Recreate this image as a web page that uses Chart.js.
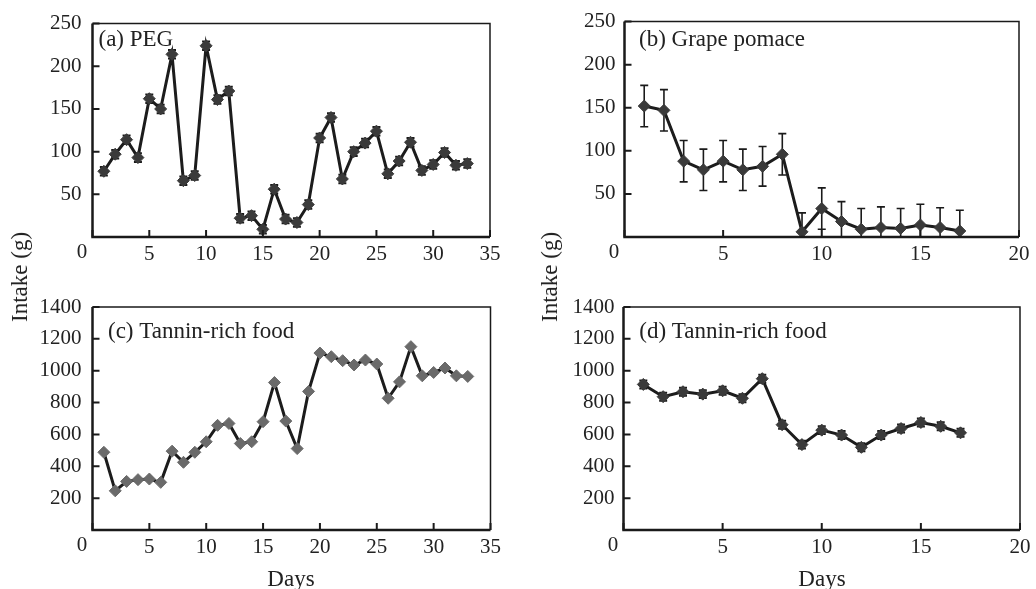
<!DOCTYPE html>
<html>
<head>
<meta charset="utf-8">
<script src="https://cdn.jsdelivr.net/npm/chart.js@4.4.1/dist/chart.umd.min.js"></script>
<style>
  html, body { margin: 0; padding: 0; background: #fff; }
  #wrap { position: relative; width: 1036px; height: 589px; overflow: hidden; font-family: 'Liberation Serif', serif; color: #222; }
  .box { position: absolute; }
  .ytitle { position: absolute; font-size: 23px; transform: translate(-50%, -50%) rotate(-90deg); white-space: nowrap; }
  .xtitle { position: absolute; font-size: 23px; transform: translate(-50%, -50%); white-space: nowrap; }
</style>
</head>
<body>
<div id="wrap">
  <div class="box" style="left:0;top:0;width:518px;height:270px"><canvas id="chartA"></canvas></div>
  <div class="box" style="left:518px;top:0;width:518px;height:270px"><canvas id="chartB"></canvas></div>
  <div class="box" style="left:0;top:270px;width:518px;height:300px"><canvas id="chartC"></canvas></div>
  <div class="box" style="left:518px;top:270px;width:518px;height:300px"><canvas id="chartD"></canvas></div>
  <div class="ytitle" style="left:20px;top:277px">Intake (g)</div>
  <div class="ytitle" style="left:550px;top:277px">Intake (g)</div>
  <div class="xtitle" style="left:291px;top:579px">Days</div>
  <div class="xtitle" style="left:822px;top:579px">Days</div>
</div>
<script>
// Data
const daysLong = [1, 2, 3, 4, 5, 6, 7, 8, 9, 10, 11, 12, 13, 14, 15, 16, 17, 18, 19, 20, 21, 22, 23, 24, 25, 26, 27, 28, 29, 30, 31, 32, 33];
const daysShort = [1, 2, 3, 4, 5, 6, 7, 8, 9, 10, 11, 12, 13, 14, 15, 16, 17];

const pegIntake = [77, 97, 114, 93, 162, 150, 214, 66, 72, 224, 161, 171, 22, 25, 9, 56, 21, 17, 38, 116, 140, 68, 100, 110, 124, 74, 89, 111, 78, 85, 99, 84, 86];
const pegErr = [5, 5, 5, 5, 5, 5, 5, 5, 5, 5, 5, 5, 5, 5, 5, 5, 5, 5, 5, 5, 5, 5, 5, 5, 5, 5, 5, 5, 5, 5, 5, 5, 5];

const grapeIntake = [152, 147, 88, 78, 88, 78, 82, 96, 6, 33, 18, 9, 11, 10, 14, 11, 7];
const grapeErr = [24, 24, 24, 24, 24, 24, 23, 24, 22, 24, 23, 24, 24, 23, 24, 23, 24];

const tanninC = [488, 246, 305, 316, 320, 299, 495, 425, 488, 554, 657, 669, 543, 554, 680, 926, 684, 511, 870, 1111, 1088, 1063, 1036, 1067, 1042, 827, 930, 1151, 968, 989, 1017, 968, 964];

const tanninD = [914, 837, 868, 853, 874, 827, 950, 661, 536, 627, 596, 519, 596, 637, 675, 651, 610];
const tanninDErr = [25, 25, 25, 25, 25, 25, 25, 25, 25, 25, 25, 25, 25, 25, 25, 25, 25];

const FONT = "'Liberation Serif', 'Times New Roman', serif";
const INK = '#222';

// Frame, inward ticks, corner zero, panel label and error bars
const panelPlugin = {
  id: 'panel',
  beforeDatasetsDraw(chart, args, opts) {
    if (!opts.err) return;
    const { ctx, chartArea: a, scales: { x, y } } = chart;
    const pts = chart.data.datasets[0].data;
    ctx.save();
    ctx.beginPath();
    ctx.rect(a.left, a.top, a.right - a.left, a.bottom - a.top);
    ctx.clip();
    ctx.strokeStyle = '#1a1a1a';
    ctx.lineWidth = opts.errWidth;
    pts.forEach((p, i) => {
      const px = x.getPixelForValue(p.x);
      const lo = y.getPixelForValue(p.y - opts.err[i]);
      const hi = y.getPixelForValue(p.y + opts.err[i]);
      ctx.beginPath();
      ctx.moveTo(px, lo); ctx.lineTo(px, hi);
      ctx.moveTo(px - opts.cap, lo); ctx.lineTo(px + opts.cap, lo);
      ctx.moveTo(px - opts.cap, hi); ctx.lineTo(px + opts.cap, hi);
      ctx.stroke();
    });
    ctx.restore();
  },
  afterDraw(chart, args, opts) {
    const { ctx, chartArea: a, scales: { x, y } } = chart;
    ctx.save();
    ctx.strokeStyle = '#1a1a1a';
    ctx.lineWidth = 1.5;
    ctx.beginPath();
    ctx.moveTo(a.left, a.top); ctx.lineTo(a.right, a.top); ctx.lineTo(a.right, a.bottom);
    ctx.stroke();
    ctx.lineWidth = 2.5;
    ctx.beginPath();
    ctx.moveTo(a.left, a.top); ctx.lineTo(a.left, a.bottom); ctx.lineTo(a.right, a.bottom);
    ctx.stroke();

    ctx.lineWidth = 2;
    ctx.beginPath();
    x.ticks.forEach(t => {
      const px = x.getPixelForValue(t.value);
      ctx.moveTo(px, a.bottom); ctx.lineTo(px, a.bottom - 7);
    });
    y.ticks.forEach(t => {
      const py = y.getPixelForValue(t.value);
      ctx.moveTo(a.left, py); ctx.lineTo(a.left + 7, py);
    });
    ctx.stroke();

    ctx.fillStyle = INK;
    ctx.font = '21px ' + FONT;
    ctx.textAlign = 'center';
    ctx.textBaseline = 'top';
    ctx.fillText('0', a.left - 10.5, a.bottom + 5);

    ctx.font = '23px ' + FONT;
    ctx.textAlign = 'left';
    ctx.textBaseline = 'middle';
    ctx.fillText(opts.label, a.left + opts.dx, a.top + opts.dy);
    ctx.restore();
  }
};
Chart.register(panelPlugin);

function makeChart(id, cfg) {
  return new Chart(document.getElementById(id), {
    type: 'line',
    data: {
      datasets: [{
        data: cfg.days.map((d, i) => ({ x: d, y: cfg.values[i] })),
        borderColor: '#1c1c1c',
        borderWidth: 3,
        pointStyle: 'rectRot',
        pointRadius: 6,
        pointBackgroundColor: cfg.pointColor,
        pointBorderColor: cfg.pointColor,
        pointBorderWidth: 1,
        tension: 0,
        clip: 10
      }]
    },
    options: {
      responsive: true,
      maintainAspectRatio: false,
      animation: false,
      events: [],
      layout: { padding: cfg.pad },
      plugins: {
        legend: { display: false },
        tooltip: { enabled: false },
        panel: { label: cfg.label, dx: cfg.dx, dy: cfg.dy, err: cfg.err, cap: cfg.cap, errWidth: cfg.errWidth }
      },
      scales: {
        x: {
          type: 'linear',
          min: 0,
          max: cfg.xMax,
          afterFit: s => { s.height = cfg.xH; },
          grid: { display: false, drawTicks: false },
          border: { display: false },
          ticks: {
            stepSize: 5, autoSkip: false, maxRotation: 0, padding: 5, color: INK,
            font: { family: FONT, size: 21 },
            callback: v => (v === 0 ? '' : v)
          }
        },
        y: {
          min: 0,
          max: cfg.yMax,
          afterFit: s => { s.width = cfg.yW; },
          grid: { display: false, drawTicks: false },
          border: { display: false },
          ticks: {
            stepSize: cfg.yStep, autoSkip: false, padding: cfg.yPad, color: INK,
            font: { family: FONT, size: 21 },
            callback: v => (v === 0 ? '' : v)
          }
        }
      }
    }
  });
}

makeChart('chartA', {
  days: daysLong, values: pegIntake, err: pegErr, cap: 4, errWidth: 2,
  pointColor: '#3a3a3a', label: '(a) PEG', dx: 6, dy: 16,
  xMax: 35, yMax: 250, yStep: 50, yW: 92.5, xH: 33, yPad: 11,
  pad: { top: 22, right: 28, left: 0, bottom: 0 }
});

makeChart('chartB', {
  days: daysShort, values: grapeIntake, err: grapeErr, cap: 4, errWidth: 1.6,
  pointColor: '#3a3a3a', label: '(b) Grape pomace', dx: 14.5, dy: 18,
  xMax: 20, yMax: 250, yStep: 50, yW: 106.5, xH: 33, yPad: 9,
  pad: { top: 21, right: 17, left: 0, bottom: 0 }
});

makeChart('chartC', {
  days: daysLong, values: tanninC,
  pointColor: '#6a6a6a', label: '(c) Tannin-rich food', dx: 15.5, dy: 25,
  xMax: 35, yMax: 1400, yStep: 200, yW: 92.5, xH: 40, yPad: 11,
  pad: { top: 37, right: 27.5, left: 0, bottom: 0 }
});

makeChart('chartD', {
  days: daysShort, values: tanninD, err: tanninDErr, cap: 4, errWidth: 2,
  pointColor: '#3a3a3a', label: '(d) Tannin-rich food', dx: 15.8, dy: 25,
  xMax: 20, yMax: 1400, yStep: 200, yW: 105.5, xH: 40, yPad: 9,
  pad: { top: 37, right: 16, left: 0, bottom: 0 }
});
</script>
</body>
</html>
